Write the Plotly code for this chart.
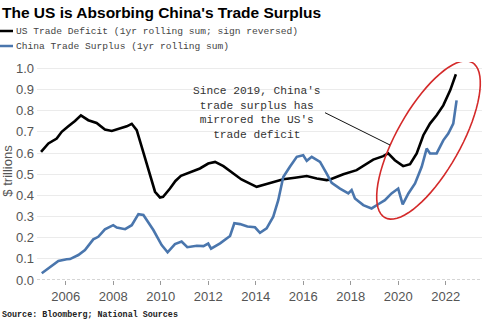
import math
import plotly.graph_objects as go

# ---------------- data ----------------
us_years = [2004.96, 2005.27, 2005.62, 2005.83, 2006.11, 2006.39, 2006.64, 2006.95, 2007.3, 2007.65,
            2007.94, 2008.29, 2008.57, 2008.78, 2008.99, 2009.2, 2009.48, 2009.76, 2009.97, 2010.1,
            2010.39, 2010.62, 2010.85, 2011.05, 2011.23, 2011.65, 2012.0, 2012.29, 2012.64, 2013.06, 2013.4,
            2013.76, 2014.04, 2014.46, 2014.88, 2015.16, 2015.65, 2016.15, 2016.57, 2016.99, 2017.13,
            2017.52, 2017.69, 2018.25, 2018.95, 2019.37, 2019.58, 2019.86, 2020.21, 2020.5, 2020.78,
            2021.06, 2021.34, 2021.62, 2021.9, 2022.19, 2022.32, 2022.43]
us_deficit = [0.605, 0.645, 0.668, 0.700, 0.726, 0.751, 0.778, 0.755, 0.742, 0.711,
              0.704, 0.715, 0.726, 0.738, 0.708, 0.629, 0.519, 0.417, 0.390, 0.393,
              0.432, 0.468, 0.492, 0.500, 0.511, 0.527, 0.550, 0.558, 0.538, 0.505, 0.475,
              0.455, 0.440, 0.453, 0.467, 0.476, 0.483, 0.491, 0.480, 0.472, 0.475,
              0.495, 0.500, 0.519, 0.569, 0.585, 0.598, 0.566, 0.538, 0.547, 0.598,
              0.684, 0.739, 0.778, 0.825, 0.896, 0.943, 0.972]

cn_years = [2004.99, 2005.34, 2005.69, 2006.04, 2006.18, 2006.53, 2006.81, 2007.16, 2007.37, 2007.65,
            2008.0, 2008.15, 2008.5, 2008.78, 2009.06, 2009.27, 2009.69, 2010.04, 2010.29, 2010.6,
            2010.88, 2011.12, 2011.52, 2011.8, 2012.0, 2012.12, 2012.5, 2012.92, 2013.1, 2013.34,
            2013.65, 2013.97, 2014.18, 2014.46, 2014.74, 2014.95, 2015.16, 2015.44, 2015.73, 2016.0,
            2016.15, 2016.36, 2016.71, 2016.99, 2017.2, 2017.55, 2017.9, 2018.04, 2018.18, 2018.53,
            2018.88, 2019.16, 2019.44, 2019.72, 2020.0, 2020.19, 2020.43, 2020.71, 2020.99, 2021.2,
            2021.34, 2021.62, 2021.9, 2022.11, 2022.32, 2022.46]
cn_surplus = [0.032, 0.063, 0.090, 0.098, 0.099, 0.118, 0.142, 0.192, 0.204, 0.239,
              0.259, 0.248, 0.240, 0.259, 0.311, 0.307, 0.236, 0.165, 0.131, 0.170,
              0.182, 0.155, 0.162, 0.160, 0.172, 0.148, 0.173, 0.208, 0.268, 0.264,
              0.253, 0.249, 0.223, 0.244, 0.299, 0.377, 0.487, 0.535, 0.582, 0.589,
              0.563, 0.582, 0.558, 0.503, 0.459, 0.432, 0.409, 0.425, 0.385, 0.354,
              0.338, 0.358, 0.377, 0.409, 0.432, 0.357, 0.409, 0.456, 0.535, 0.621,
              0.598, 0.598, 0.660, 0.692, 0.739, 0.849]

x_tick_vals = [2006, 2008, 2010, 2012, 2014, 2016, 2018, 2020, 2022]
y_tick_vals = [0.0, 0.1, 0.2, 0.3, 0.4, 0.5, 0.6, 0.7, 0.8, 0.9, 1.0]

title_text = "The US is Absorbing China's Trade Surplus"
legend_us = "US Trade Deficit (1yr rolling sum; sign reversed)"
legend_cn = "China Trade Surplus (1yr rolling sum)"
note_text = "Since 2019, China's<br>trade surplus has<br>mirrored the US's<br>trade deficit"
source_text = "Source: Bloomberg; National Sources"

# ---------------- layout geometry ----------------
W, H = 485, 324
ML, MR, MT, MB = 37, 3, 62, 44
XR = [2004.79, 2023.53]
YR = [0.0, 1.03]
PW = W - ML - MR
PH = H - MT - MB


def px2x(px):
    return XR[0] + (px - ML) / PW * (XR[1] - XR[0])


def py2y(py):
    return YR[0] + (H - MB - py) / PH * (YR[1] - YR[0])


def px2paper(px):
    return (px - ML) / PW


def py2paper(py):
    return (H - MB - py) / PH


US_COLOR = "#000000"
CN_COLOR = "#4a76ad"
MONO = "Liberation Mono, DejaVu Sans Mono, monospace"
SANS = "Liberation Sans, Arial, sans-serif"

fig = go.Figure()
fig.add_trace(go.Scatter(x=us_years, y=us_deficit, mode="lines", name=legend_us,
                         line=dict(color=US_COLOR, width=2.6), showlegend=False))
fig.add_trace(go.Scatter(x=cn_years, y=cn_surplus, mode="lines", name=legend_cn,
                         line=dict(color=CN_COLOR, width=2.6), showlegend=False))

shapes = []
# dashed baseline at zero
shapes.append(dict(type="line", xref="paper", yref="y", x0=0, x1=1, y0=0, y1=0,
                   line=dict(color="#aaaaaa", width=1, dash="3px,2px"), layer="below"))
# ellipse (pixel-space parameters -> data coords)
cx, cy, a, b = 428.5, 140.0, 89.0, 32.0
ang = math.atan2(-0.87, 0.49)
pts = []
for i in range(73):
    t = 2 * math.pi * i / 72
    ex = a * math.cos(t)
    ey = b * math.sin(t)
    px = cx + ex * math.cos(ang) - ey * math.sin(ang)
    py = cy + ex * math.sin(ang) + ey * math.cos(ang)
    pts.append((px2x(px), py2y(py)))
path = "M " + " L ".join(f"{x:.4f},{y:.4f}" for x, y in pts) + " Z"
shapes.append(dict(type="path", path=path, xref="x", yref="y",
                   line=dict(color="#d42a2a", width=1.6), layer="above"))
# pointer line
shapes.append(dict(type="line", xref="x", yref="y",
                   x0=px2x(325), y0=py2y(112.7), x1=px2x(390), y1=py2y(145),
                   line=dict(color="#111111", width=1)))
# legend swatches
shapes.append(dict(type="line", xref="paper", yref="paper",
                   x0=px2paper(0), x1=px2paper(13), y0=py2paper(31), y1=py2paper(31),
                   line=dict(color=US_COLOR, width=2.5)))
shapes.append(dict(type="line", xref="paper", yref="paper",
                   x0=px2paper(0), x1=px2paper(13), y0=py2paper(46), y1=py2paper(46),
                   line=dict(color=CN_COLOR, width=2.5)))

annotations = [
    dict(text=f"<b>{title_text}</b>", xref="paper", yref="paper", x=px2paper(0), y=py2paper(12),
         xanchor="left", yanchor="middle", showarrow=False,
         font=dict(family=SANS, size=15.5, color="#000000")),
    dict(text=legend_us, xref="paper", yref="paper", x=px2paper(14), y=py2paper(31),
         xanchor="left", yanchor="middle", showarrow=False,
         font=dict(family=MONO, size=9.6, color="#444444")),
    dict(text=legend_cn, xref="paper", yref="paper", x=px2paper(14), y=py2paper(46),
         xanchor="left", yanchor="middle", showarrow=False,
         font=dict(family=MONO, size=9.6, color="#444444")),
    dict(text=note_text, xref="x", yref="y", x=px2x(257), y=py2y(113.3),
         xanchor="center", yanchor="middle", showarrow=False, align="center",
         font=dict(family=MONO, size=11.2, color="#333333")),
    dict(text=f"<b>{source_text}</b>", xref="paper", yref="paper", x=px2paper(0), y=py2paper(315),
         xanchor="left", yanchor="middle", showarrow=False,
         font=dict(family=MONO, size=8.4, color="#222222")),
]

fig.update_layout(
    width=W, height=H,
    margin=dict(l=ML, r=MR, t=MT, b=MB, pad=0),
    paper_bgcolor="#ffffff", plot_bgcolor="#ffffff",
    shapes=shapes, annotations=annotations, showlegend=False,
    xaxis=dict(range=XR, tickvals=x_tick_vals, ticktext=[str(v) for v in x_tick_vals],
               showgrid=False, zeroline=False, showline=False,
               ticks="outside", ticklen=4, tickcolor="#999999",
               tickfont=dict(family=SANS, size=13, color="#555555")),
    yaxis=dict(range=YR, tickvals=y_tick_vals, ticktext=[f"{v:.1f}" for v in y_tick_vals],
               showgrid=True, gridcolor="#ebebeb", gridwidth=1, zeroline=False, showline=False,
               ticks="", ticklabelstandoff=2,
               title=dict(text="$ trillions", standoff=2,
                          font=dict(family=SANS, size=13, color="#555555")),
               tickfont=dict(family=SANS, size=13, color="#555555")),
)

fig.write_html("out.html")
